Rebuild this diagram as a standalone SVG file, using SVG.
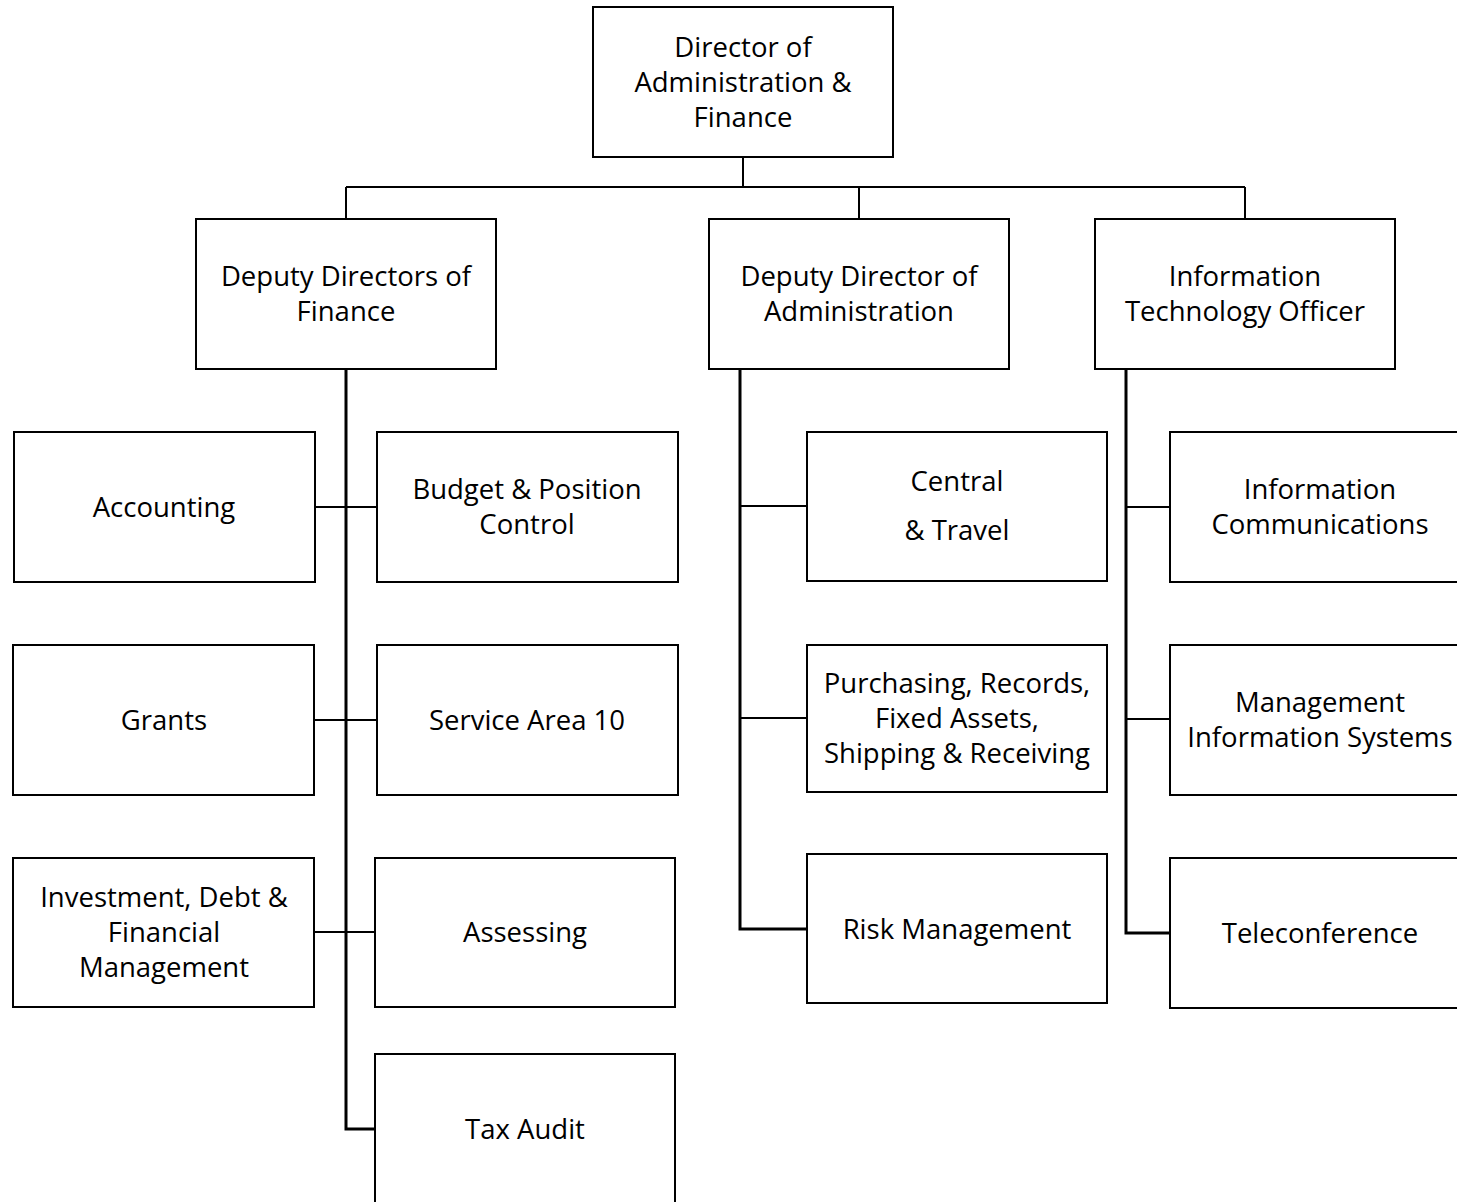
<svg xmlns="http://www.w3.org/2000/svg" width="1457" height="1202" viewBox="0 0 1457 1202">
<style>
rect{fill:#fff;stroke:#000;stroke-width:2}
text{font-family:"Open Sans","Noto Sans",sans-serif;font-size:27.5px;fill:#000;text-anchor:middle}
#connectors path{fill:none;stroke:#000;stroke-width:2}
#connectors .trunk{stroke-width:3}
</style>
<rect x="0" y="0" width="1457" height="1202" style="stroke:none"/>
<g id="connectors">
<path d="M743 157V187M346 187H1245M346 187V219M859 187V219M1245 187V219"/>
<path class="trunk" d="M346 369V1129H375"/>
<path d="M315 507H377M314 720H377M314 932H375"/>
<path class="trunk" d="M740 369V929H807"/>
<path d="M740 506H807M740 718H807"/>
<path class="trunk" d="M1126 369V933H1170"/>
<path d="M1126 507H1170M1126 719H1170"/>
</g>
<g id="director"><rect x="593" y="7" width="300" height="150"/><text x="743" y="57">Director of</text><text x="743" y="92">Administration &amp;</text><text x="743" y="127">Finance</text></g>
<g id="dep-finance"><rect x="196" y="219" width="300" height="150"/><text x="346" y="286">Deputy Directors of</text><text x="346" y="321">Finance</text></g>
<g id="dep-admin"><rect x="709" y="219" width="300" height="150"/><text x="859" y="286">Deputy Director of</text><text x="859" y="321">Administration</text></g>
<g id="it-officer"><rect x="1095" y="219" width="300" height="150"/><text x="1245" y="286">Information</text><text x="1245" y="321">Technology Officer</text></g>
<g id="accounting"><rect x="14" y="432" width="301" height="150"/><text x="164" y="517">Accounting</text></g>
<g id="budget"><rect x="377" y="432" width="301" height="150"/><text x="527" y="499">Budget &amp; Position</text><text x="527" y="534">Control</text></g>
<g id="grants"><rect x="13" y="645" width="301" height="150"/><text x="164" y="730">Grants</text></g>
<g id="service-area"><rect x="377" y="645" width="301" height="150"/><text x="527" y="730">Service Area 10</text></g>
<g id="investment"><rect x="13" y="858" width="301" height="149"/><text x="164" y="907">Investment, Debt &amp;</text><text x="164" y="942">Financial</text><text x="164" y="977">Management</text></g>
<g id="assessing"><rect x="375" y="858" width="300" height="149"/><text x="525" y="942">Assessing</text></g>
<g id="tax-audit"><rect x="375" y="1054" width="300" height="160"/><text x="525" y="1139">Tax Audit</text></g>
<g id="central"><rect x="807" y="432" width="300" height="149"/><text x="957" y="491">Central</text><text x="957" y="540">&amp; Travel</text></g>
<g id="purchasing"><rect x="807" y="645" width="300" height="147"/><text x="957" y="693">Purchasing, Records,</text><text x="957" y="728">Fixed Assets,</text><text x="957" y="763">Shipping &amp; Receiving</text></g>
<g id="risk"><rect x="807" y="854" width="300" height="149"/><text x="957" y="939">Risk Management</text></g>
<g id="info-comm"><rect x="1170" y="432" width="300" height="150"/><text x="1320" y="499">Information</text><text x="1320" y="534">Communications</text></g>
<g id="mis"><rect x="1170" y="645" width="300" height="150"/><text x="1320" y="712">Management</text><text x="1320" y="747">Information Systems</text></g>
<g id="teleconference"><rect x="1170" y="858" width="300" height="150"/><text x="1320" y="943">Teleconference</text></g>
</svg>
